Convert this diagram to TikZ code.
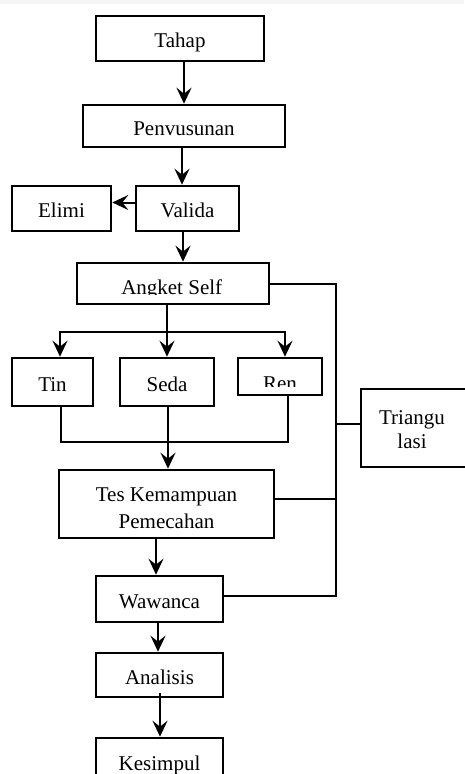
\documentclass[tikz,border=0pt]{standalone}
\usepackage{fontspec}
\setmainfont{Liberation Serif}
\usetikzlibrary{arrows.meta}
\begin{document}
\begin{tikzpicture}[x=1pt,y=-1pt]
	\tikzstyle{box}=[rectangle,draw=black,line width=2.6pt,inner sep=0pt,font=\fontsize{21}{27}\selectfont,text height=18pt,text depth=0pt]
	\tikzstyle{tall}=[rectangle,draw=black,line width=2.6pt,inner sep=0pt,font=\fontsize{21}{27}\selectfont,align=center]
	\tikzstyle{txt}=[inner sep=0pt,font=\fontsize{21}{24}\selectfont,align=center]
	\tikzstyle{ln}=[line width=2pt]
	\tikzstyle{arr}=[ln,-{Stealth[length=16pt,width=15pt,inset=6pt]}]
	\useasboundingbox (0,0) rectangle (464,774);
	\fill[black!4] (0,0) rectangle (464,4);
	\begin{scope}
	\node[box,minimum width=168pt,minimum height=45pt] (tahap) at (180,38.5) {Tahap};
	\node[box,minimum width=202pt,minimum height=42pt] (penyusunan) at (184,126) {Penvusunan};
	\node[box,minimum width=99pt,minimum height=45pt] (elimi) at (61.5,208.5) {Elimi};
	\node[box,minimum width=103pt,minimum height=45pt] (valida) at (187.5,208.5) {Valida};
	\node[box,minimum width=192pt,minimum height=41pt] (angket) at (173,283.5) {};
	\node[box,minimum width=81pt,minimum height=48pt] (tin) at (52.5,382) {Tin};
	\node[box,minimum width=94pt,minimum height=48pt] (seda) at (167,382) {Seda};
	\node[box,minimum width=84pt,minimum height=37pt] (ren) at (280,376.5) {};
	\node[tall,minimum width=215pt,minimum height=68pt] (tes) at (166.5,504) {\rule{0pt}{22pt}Tes Kemampuan\\Pemecahan};
	\node[box,minimum width=120pt,minimum height=78pt] (tria) at (421,428) {};
	\node[box,minimum width=127pt,minimum height=46pt] (wawanca) at (159.5,599) {Wawanca};
	\node[box,minimum width=127pt,minimum height=44pt] (analisis) at (159.5,675) {Analisis};
	\node[box,minimum width=127pt,minimum height=47pt] (kesimpul) at (159.5,761.5) {Kesimpul};
	\end{scope}
	% texts cut off in the original
	\begin{scope}
	\clip (80,265) rectangle (266,294.3);
	\node[txt,anchor=base] (angkettxt) at (171.7,294) {Angket Self};
	\end{scope}
	\begin{scope}
	\clip (240,360) rectangle (320,386);
	\node[txt,anchor=base] (rentxt) at (280,390.6) {Ren};
	\end{scope}
	\node[txt] (triatxt) at (412,430) {Triangu\\lasi};

	\coordinate (fork) at (167,332);
	\coordinate (join) at (168,442);
	\coordinate (bustop) at (336,283.5);
	\coordinate (busbot) at (336,596);

	\draw[arr] (penyusunan.north |- tahap.south) -- (penyusunan.north);
	\draw[arr] ([xshift=-2pt]penyusunan.south) -- ([xshift=-2pt]penyusunan.south |- valida.north);
	\draw[arr] ([yshift=6pt]valida.west) -- ([yshift=6pt]elimi.east);
	\draw[arr] ([xshift=-4.5pt]valida.south) -- ([xshift=-4.5pt]valida.south |- angket.north);
	\draw[arr] (angket.south -| fork) -- (fork) -| ([xshift=7.5pt]tin.north);
	\draw[arr] (fork) -| ([xshift=5pt]ren.north);
	\draw[arr] (fork) -- (fork |- seda.north);
	\draw[ln] ([xshift=8.5pt]tin.south) |- (join) -| ([xshift=8pt]ren.south);
	\draw[arr] (seda.south -| join) -- (join |- tes.north);
	\draw[ln] (angket.east) -- (bustop) -- (busbot) -- ([yshift=3pt]wawanca.east);
	\draw[ln] ([yshift=5pt]tes.east) -- ([yshift=5pt]tes.east -| bustop);
	\draw[ln] ([yshift=4pt]tria.west -| bustop) -- ([yshift=4pt]tria.west);
	\draw[arr] ([xshift=-3.5pt]wawanca.north |- tes.south) -- ([xshift=-3.5pt]wawanca.north);
	\draw[arr] ([xshift=-1.5pt]wawanca.south) -- ([xshift=-1.5pt]analisis.north);
	\draw[arr] ([xshift=0.5pt,yshift=5pt]analisis.south) -- ([xshift=0.5pt]kesimpul.north);
\end{tikzpicture}
\end{document}
